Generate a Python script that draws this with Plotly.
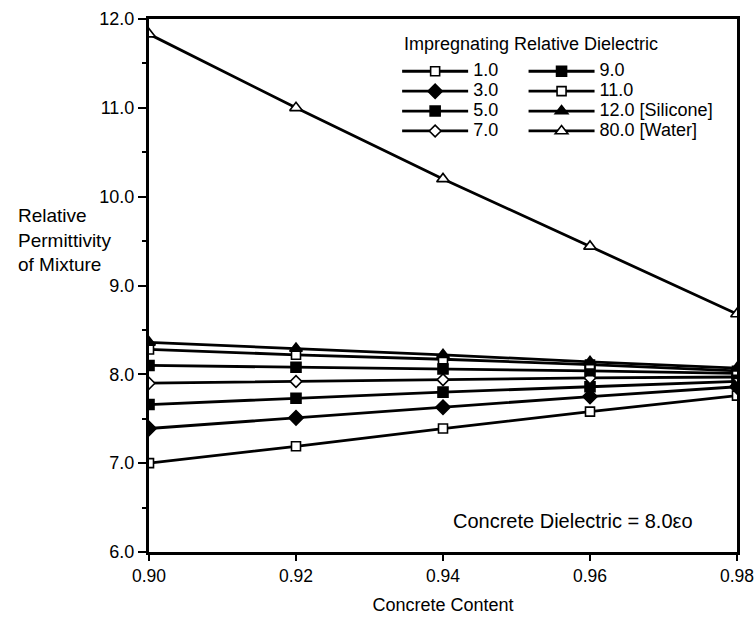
import plotly.graph_objects as go

# Concrete content (volume fraction) on the x axis
conc = [0.90, 0.92, 0.94, 0.96, 0.98]

# Relative permittivity of the mixture for each impregnating dielectric
e1 = [7.00, 7.19, 7.39, 7.58, 7.76]
e3 = [7.39, 7.51, 7.63, 7.75, 7.86]
e5 = [7.66, 7.73, 7.80, 7.86, 7.92]
e7 = [7.90, 7.92, 7.94, 7.96, 7.97]
e9 = [8.10, 8.08, 8.06, 8.04, 8.01]
e11 = [8.28, 8.22, 8.17, 8.11, 8.04]
e12 = [8.36, 8.29, 8.22, 8.14, 8.07]
e80 = [11.83, 11.00, 10.20, 9.44, 8.68]

labels = ["1.0", "3.0", "5.0", "7.0", "9.0", "11.0", "12.0 [Silicone]", "80.0 [Water]"]
series = [e1, e3, e5, e7, e9, e11, e12, e80]
symbols = ["square", "diamond", "square", "diamond", "square", "square", "triangle-up", "triangle-up"]
fills = ["white", "black", "black", "white", "black", "white", "black", "white"]
sizes = [9, 11, 10, 9, 10, 9, 11, 11]
groups = ["legend", "legend", "legend", "legend", "legend2", "legend2", "legend2", "legend2"]

FONT = "Liberation Sans, Arial, Helvetica, sans-serif"

fig = go.Figure()
for name, ys, sym, fc, sz, lg in zip(labels, series, symbols, fills, sizes, groups):
    fig.add_trace(go.Scatter(
        x=conc, y=ys, mode="lines+markers",
        name=f"<span style='font-size:18px'>{name}</span>",
        line=dict(color="black", width=2.8),
        marker=dict(symbol=sym, size=sz, color=fc, line=dict(color="black", width=1.6)),
        legend=lg,
    ))

legend_common = dict(
    font=dict(family=FONT, size=13, color="black"),
    bgcolor="rgba(0,0,0,0)", borderwidth=0,
    itemwidth=66, yanchor="top", xanchor="left", tracegroupgap=0,
)

fig.update_layout(
    width=754, height=628,
    margin=dict(l=149, r=17, t=19, b=76),
    paper_bgcolor="white", plot_bgcolor="white",
    font=dict(family=FONT, size=18, color="black"),
    legend=dict(x=0.422, y=0.930, **legend_common),
    legend2=dict(x=0.637, y=0.930, **legend_common),
    xaxis=dict(
        range=[0.90, 0.98], tickvals=[0.90, 0.92, 0.94, 0.96, 0.98],
        ticktext=["0.90", "0.92", "0.94", "0.96", "0.98"],
        showline=True, linecolor="black", linewidth=3, mirror=True,
        ticks="outside", ticklen=6, tickwidth=2, tickcolor="black",
        showgrid=False, zeroline=False, ticklabeloverflow="allow", automargin=False,
        tickfont=dict(family=FONT, size=17.5),
        title=dict(text="Concrete Content", font=dict(family=FONT, size=18), standoff=14),
    ),
    yaxis=dict(
        range=[6.0, 12.0], tickvals=[6, 7, 8, 9, 10, 11, 12],
        ticktext=["6.0", "7.0", "8.0", "9.0", "10.0", "11.0", "12.0"],
        showline=True, linecolor="black", linewidth=3, mirror=True,
        ticks="outside", ticklen=8, tickwidth=2, tickcolor="black",
        minor=dict(dtick=0.5, ticks="outside", ticklen=4, tickwidth=2, tickcolor="black"),
        showgrid=False, zeroline=False, automargin=False,
        tickfont=dict(family=FONT, size=18),
    ),
    annotations=[
        dict(text="Relative<br>Permittivity<br>of Mixture", xref="paper", yref="paper",
             x=-0.226, y=0.585, xanchor="left", yanchor="middle", align="left",
             showarrow=False, font=dict(family=FONT, size=19)),
        dict(text="Impregnating Relative Dielectric", xref="paper", yref="paper",
             x=0.43, y=0.953, xanchor="left", yanchor="middle",
             showarrow=False, font=dict(family=FONT, size=18)),
        dict(text="Concrete Dielectric = 8.0\u03b5o", xref="paper", yref="paper",
             x=0.514, y=0.058, xanchor="left", yanchor="middle",
             showarrow=False, font=dict(family=FONT, size=20)),
    ],
)

fig.write_html("out.html")
